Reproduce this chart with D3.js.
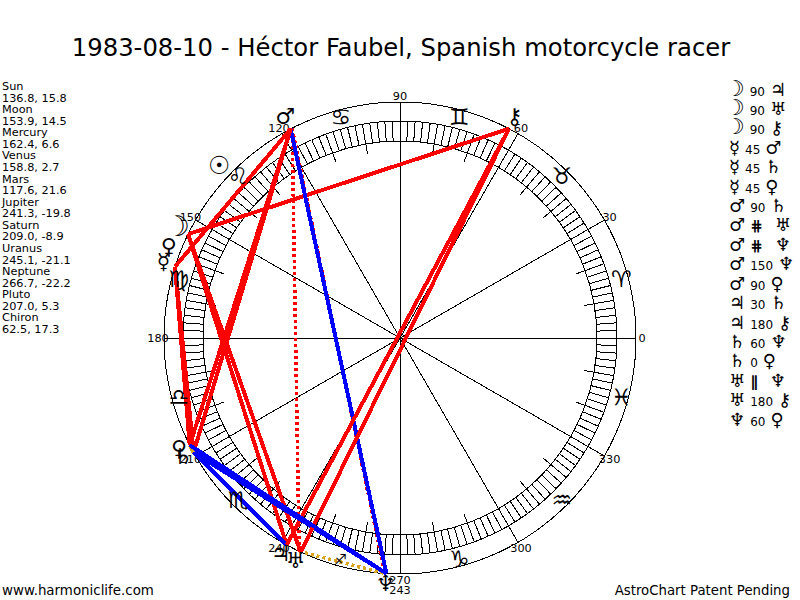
<!DOCTYPE html>
<html>
<head>
<meta charset="utf-8">
<script src="https://cdn.jsdelivr.net/npm/d3@7"></script>
<style>
  body { margin: 0; background: #fff; }
  text { font-family: "DejaVu Sans", sans-serif; fill: #000; }
  path { shape-rendering: crispEdges; }
  .glyph { font-family: "DejaVu Serif", "DejaVu Sans", serif; }
</style>
</head>
<body>
<script>
const title = '1983-08-10 - Héctor Faubel, Spanish motorcycle racer';

// planets, longitude and latitude as listed on the left of the chart
const planets = ['Sun', 'Moon', 'Mercury', 'Venus', 'Mars', 'Jupiter', 'Saturn', 'Uranus', 'Neptune', 'Pluto', 'Chiron'];
const longitudes = [136.8, 153.9, 162.4, 158.8, 117.6, 241.3, 209.0, 245.1, 266.7, 207.0, 62.5];
const latitudes = ['15.8', '14.5', '6.6', '2.7', '21.6', '-19.8', '-8.9', '-21.1', '-22.2', '5.3', '17.3'];
// Pluto is a cup over circle and cross in the original font, closest here is the Venus form
const glyphs = ['\u2609', '\u263D', '\u263F', '\u2640', '\u2642', '\u2643', '\u2644', '\u2645', '\u2646', '\u2640', '\u26B7'];

const signs = ['\u2648', '\u2649', '\u264A', '\u264B', '\u264C', '\u264D', '\u264E', '\u264F', '\u2650', '\u2651', '\u2652', '\u2653'];
const degreeLabels = [0, 30, 60, 90, 120, 150, 180, 210, 240, 270, 300, 330];

// aspect table, same order as the legend on the right
const aspectFrom = ['Moon', 'Moon', 'Moon', 'Mercury', 'Mercury', 'Mercury', 'Mars', 'Mars', 'Mars', 'Mars', 'Mars', 'Jupiter', 'Jupiter', 'Saturn', 'Saturn', 'Uranus', 'Uranus', 'Neptune'];
const aspectKind = ['90', '90', '90', '45', '45', '45', '90', '#', '#', '150', '90', '30', '180', '60', '0', '||', '180', '60'];
const aspectTo = ['Jupiter', 'Uranus', 'Chiron', 'Mars', 'Saturn', 'Pluto', 'Saturn', 'Uranus', 'Neptune', 'Neptune', 'Pluto', 'Saturn', 'Chiron', 'Neptune', 'Pluto', 'Neptune', 'Chiron', 'Pluto'];

const kindColor = { '0': '#daa520', '30': '#0000ff', '45': '#ff0000', '60': '#0000ff', '90': '#ff0000', '150': '#0000ff', '180': '#ff0000', '#': '#ff0000', '||': '#daa520' };
const kindLabel = { '#': '\u22D5', '||': '\u2225' };

const w = 800, h = 600;
const cx = 400, cy = 338;
const rOuter = 236, rBandOut = 217, rBandIn = 197, rTick = 187, rSign = 229, rGlyph = 248, rLabel = 242;

const angle = d3.scaleLinear().domain([0, 360]).range([Math.PI / 2, Math.PI / 2 - 2 * Math.PI]);
const point = (lon, r) => d3.pointRadial(angle(lon), r);
const lonOf = name => longitudes[planets.indexOf(name)];

const svg = d3.select('body').append('svg').attr('width', w).attr('height', h);

svg.append('text').attr('x', w / 2 + 1).attr('y', 56)
  .attr('text-anchor', 'middle').attr('font-size', 24.3).text(title);

// planet list, left side
const listY = d3.scalePoint().domain(d3.range(planets.length * 2)).range([90, 333]);
planets.forEach((p, i) => {
  svg.append('text').attr('x', 2).attr('y', listY(i * 2)).attr('font-size', 11.3).text(p);
  svg.append('text').attr('x', 2).attr('y', listY(i * 2 + 1)).attr('font-size', 11.3)
    .text(longitudes[i].toFixed(1) + ', ' + latitudes[i]);
});

const wheel = svg.append('g').attr('transform', `translate(${cx},${cy})`);

const ring = r => d3.arc().innerRadius(r).outerRadius(r).startAngle(0).endAngle(2 * Math.PI)();
[rOuter, rBandOut, rBandIn].forEach(r => {
  wheel.append('path').attr('d', ring(r)).attr('fill', 'none').attr('stroke', '#000');
});

const radial = d3.lineRadial().angle(d => angle(d[0])).radius(d => d[1]);

// band ticks every 2 degrees, longer every 10
d3.range(0, 360, 2).forEach(d => {
  wheel.append('path').attr('d', radial([[d, d % 10 === 0 ? rTick : rBandIn], [d, rBandOut]]))
    .attr('fill', 'none').attr('stroke', '#000');
});

// spokes
degreeLabels.forEach(d => {
  wheel.append('path').attr('d', radial([[d, 0], [d, rOuter]])).attr('fill', 'none').attr('stroke', '#000');
  const [x, y] = point(d, rLabel);
  wheel.append('text').attr('x', x).attr('y', y).attr('dy', '0.35em').attr('text-anchor', 'middle')
    .attr('font-size', 11.3).text(d);
});

// aspect lines, the dotted ones sit a hair off the solid ones in the original
aspectKind.forEach((k, i) => {
  const dotted = k === '#' || k === '||';
  wheel.append('path')
    .attr('d', radial([[lonOf(aspectFrom[i]), rOuter], [lonOf(aspectTo[i]), rOuter]]))
    .attr('transform', dotted ? 'rotate(0.4)' : null)
    .attr('fill', 'none')
    .attr('stroke', kindColor[k])
    .attr('stroke-width', dotted ? 3.5 : 4)
    .attr('stroke-dasharray', dotted ? '3 3' : null);
});

// sign glyphs
signs.forEach((s, i) => {
  const [x, y] = point(i * 30 + 15, rSign);
  wheel.append('text').attr('class', 'glyph').attr('x', x).attr('y', y).attr('dy', '0.35em').attr('text-anchor', 'middle')
    .attr('font-size', s === '\u2650' ? 14 : 23).text(s + '\uFE0E');
});

// planet glyphs
const wheelSize = name => (name === 'Sun' ? 25 : name === 'Moon' ? 28 : 22);
planets.forEach((p, i) => {
  const [x, y] = point(longitudes[i], rGlyph);
  wheel.append('text').attr('class', 'glyph').attr('x', x).attr('y', y).attr('dy', '0.25em').attr('text-anchor', 'middle')
    .attr('font-size', wheelSize(p)).text(glyphs[i] + '\uFE0E');
});

wheel.append('text').attr('x', 0).attr('y', 256).attr('text-anchor', 'middle').attr('font-size', 11.3).text('243');

// aspect legend, right side
const rowY = d3.scalePoint().domain(d3.range(aspectKind.length)).range([90, 420]);
const rowSize = name => (name === 'Moon' ? 22 : 18);
aspectKind.forEach((k, i) => {
  const row = svg.append('text').attr('x', aspectFrom[i] === 'Moon' ? 725 : 729).attr('y', rowY(i)).attr('dy', '0.35em');
  row.append('tspan').attr('class', 'glyph').attr('font-size', rowSize(aspectFrom[i]))
    .text(glyphs[planets.indexOf(aspectFrom[i])] + '\uFE0E');
  row.append('tspan').attr('font-size', kindLabel[k] ? 15 : 12).attr('dx', 5)
    .attr('font-weight', kindLabel[k] ? 'bold' : null).text(kindLabel[k] || k);
  row.append('tspan').attr('class', 'glyph').attr('font-size', rowSize(aspectTo[i])).attr('dx', kindLabel[k] ? 12 : 5)
    .text(glyphs[planets.indexOf(aspectTo[i])] + '\uFE0E');
});

svg.append('text').attr('x', 2).attr('y', 595).attr('font-size', 13.4).text('www.harmoniclife.com');
svg.append('text').attr('x', 790).attr('y', 595).attr('text-anchor', 'end').attr('font-size', 13.3).text('AstroChart Patent Pending');
</script>
</body>
</html>
